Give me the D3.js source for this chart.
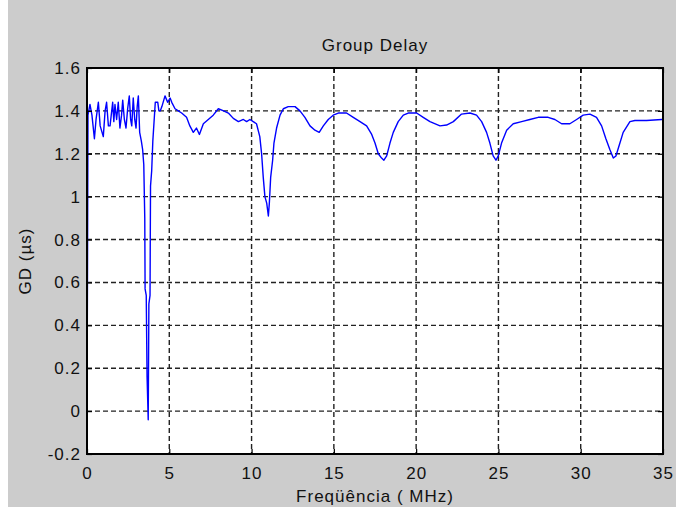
<!DOCTYPE html>
<html>
<head>
<meta charset="utf-8">
<script src="https://cdn.jsdelivr.net/npm/d3@7"></script>
<style>
body { margin: 0; background: #cccccc; }
svg { display: block; }
text { font-family: "Liberation Sans", Arial, sans-serif; font-size: 17px; letter-spacing: 1px; fill: #111; }
</style>
</head>
<body>
<svg width="676" height="507"></svg>
<script>
var title = 'Group Delay';
var xLabel = 'Freqüência ( MHz)';
var yLabel = 'GD (µs)';
var xTicks = [0, 5, 10, 15, 20, 25, 30, 35];
var yTicks = [-0.2, 0, 0.2, 0.4, 0.6, 0.8, 1, 1.2, 1.4, 1.6];

// frequency (MHz) and group delay (us)
var freq = [0, 0.03, 0.06, 0.18, 0.3, 0.45, 0.55, 0.69, 0.8, 0.99, 1.1, 1.19, 1.3, 1.4,
    1.56, 1.63, 1.7, 1.8, 1.9, 2.0, 2.1, 2.17, 2.27, 2.37, 2.47, 2.57, 2.65, 2.72,
    2.81, 2.9, 2.98, 3.05, 3.12, 3.2, 3.3, 3.38, 3.45, 3.51, 3.53, 3.6, 3.65, 3.72,
    3.76, 3.83, 3.86, 3.93, 4.0, 4.15, 4.3, 4.37, 4.45, 4.55, 4.74, 4.9, 5.05, 5.15,
    5.35, 5.55, 5.75, 6.05, 6.25, 6.46, 6.65, 6.83, 7.07, 7.37, 7.67, 7.98, 8.3,
    8.59, 8.89, 9.2, 9.5, 9.7, 9.9, 10.1, 10.3, 10.5, 10.61, 10.71, 10.81, 10.92,
    11.02, 11.08, 11.16, 11.28, 11.36, 11.52, 11.73, 11.93, 12.23, 12.64, 12.94,
    13.24, 13.55, 13.85, 14.11, 14.36, 14.66, 14.96, 15.27, 15.77, 16.18, 16.59,
    16.99, 17.3, 17.5, 17.7, 17.9, 18.04, 18.21, 18.41, 18.61, 18.91, 19.22, 19.52,
    20.03, 20.43, 20.84, 21.45, 21.85, 22.26, 22.76, 23.27, 23.67, 23.98, 24.28,
    24.48, 24.68, 24.85, 24.99, 25.19, 25.5, 25.9, 26.41, 26.91, 27.42, 28.02,
    28.43, 28.84, 29.34, 29.75, 30.15, 30.56, 30.96, 31.27, 31.53, 31.77, 31.98,
    32.14, 32.34, 32.58, 32.99, 33.29, 34.0, 34.92, 35];
var delay = [0.0, 0.64, 1.38, 1.43, 1.38, 1.27, 1.36, 1.44, 1.33, 1.28, 1.40, 1.44, 1.33, 1.33,
    1.44, 1.35, 1.43, 1.36, 1.44, 1.32, 1.38, 1.45, 1.36, 1.32, 1.41, 1.47, 1.36, 1.33,
    1.46, 1.36, 1.32, 1.42, 1.47, 1.30, 1.26, 1.22, 1.15, 0.9, 0.57, 0.54, 0.16, -0.04,
    0.5, 0.54, 1.05, 1.12, 1.26, 1.44, 1.44, 1.40, 1.40, 1.42, 1.47, 1.44, 1.46, 1.44,
    1.41, 1.40, 1.39, 1.37, 1.33, 1.30, 1.32, 1.29, 1.34, 1.36, 1.38, 1.41, 1.40,
    1.39, 1.365, 1.35, 1.36, 1.35, 1.36, 1.35, 1.34, 1.28, 1.20, 1.09, 1.0, 0.97,
    0.91, 0.97, 1.09, 1.17, 1.25, 1.32, 1.38, 1.41, 1.42, 1.42, 1.40,
    1.37, 1.33, 1.31, 1.30, 1.33, 1.36, 1.38, 1.39, 1.39, 1.37, 1.35,
    1.33, 1.29, 1.25, 1.20, 1.18, 1.17, 1.19, 1.25, 1.30, 1.35, 1.38, 1.39,
    1.39, 1.37, 1.35, 1.33, 1.334, 1.35, 1.385, 1.39, 1.38, 1.35, 1.30,
    1.25, 1.19, 1.17, 1.19, 1.25, 1.31, 1.34, 1.35, 1.36, 1.37, 1.37,
    1.36, 1.34, 1.34, 1.36, 1.38, 1.385, 1.37, 1.33, 1.27, 1.22, 1.18,
    1.19, 1.24, 1.30, 1.35, 1.355, 1.355, 1.36, 1.36];

var svg = d3.select('svg');
var pLeft = 87, pRight = 663, pTop = 68, pBottom = 454;

// white strip on the left edge of the screenshot
svg.append('rect').attr('x', 0).attr('y', 0).attr('width', 8).attr('height', 507).style('fill', '#fff');

var x = d3.scaleLinear().domain([0, 35]).range([pLeft, pRight]);
var y = d3.scaleLinear().domain([-0.2, 1.6]).range([pBottom, pTop]);

svg.append('rect')
    .attr('x', pLeft).attr('y', pTop)
    .attr('width', pRight - pLeft).attr('height', pBottom - pTop)
    .style('fill', '#fff');

// dashed grid
var grid = svg.append('g')
    .style('stroke', '#222')
    .style('stroke-width', 1.4)
    .style('stroke-dasharray', '5,3');
grid.selectAll('.vg')
    .data(xTicks.slice(1, -1))
    .enter()
    .append('line')
    .attr('x1', function(d) {return x(d);})
    .attr('x2', function(d) {return x(d);})
    .attr('y1', pTop).attr('y2', pBottom);
grid.selectAll('.hg')
    .data(yTicks.slice(1, -1))
    .enter()
    .append('line')
    .attr('y1', function(d) {return y(d);})
    .attr('y2', function(d) {return y(d);})
    .attr('x1', pLeft).attr('x2', pRight);

// the curve
var line = d3.line()
    .x(function(d) {return x(d[0]);})
    .y(function(d) {return y(d[1]);});
svg.append('path')
    .datum(d3.zip(freq, delay))
    .attr('d', line)
    .style('fill', 'none')
    .style('stroke', '#0000ff')
    .style('stroke-width', 1.4)
    .style('stroke-linejoin', 'round');

// axes, ticks pointing in, box on all sides
// plain hyphen for negatives, like the original
var fmt = function(d) {return String(+d.toFixed(1));};
var axes = [
    [d3.axisBottom(x).tickValues(xTicks).tickSize(-5).tickPadding(13).tickFormat(fmt), 'translate(0,' + pBottom + ')'],
    [d3.axisTop(x).tickValues(xTicks).tickSize(-5).tickFormat(''), 'translate(0,' + pTop + ')'],
    [d3.axisLeft(y).tickValues(yTicks).tickSize(-5).tickPadding(6).tickFormat(fmt), 'translate(' + pLeft + ',0)'],
    [d3.axisRight(y).tickValues(yTicks).tickSize(-5).tickFormat(''), 'translate(' + pRight + ',0)']
];
axes.forEach(function(a) {
    var g = svg.append('g').attr('transform', a[1]).call(a[0]);
    g.select('.domain').remove();
    g.selectAll('line').style('stroke', '#000').style('stroke-width', 1.2);
    g.selectAll('text')
        .style('font-size', '17px')
        .style('font-family', '"Liberation Sans", Arial, sans-serif')
        .style('fill', '#111');
});

svg.append('rect')
    .attr('x', pLeft).attr('y', pTop)
    .attr('width', pRight - pLeft).attr('height', pBottom - pTop)
    .style('fill', 'none')
    .style('stroke', '#000')
    .style('stroke-width', 2);

// labels
svg.append('text')
    .attr('x', (pLeft + pRight) / 2).attr('y', 51)
    .attr('text-anchor', 'middle')
    .text(title);
svg.append('text')
    .attr('x', (pLeft + pRight) / 2).attr('y', 502)
    .attr('text-anchor', 'middle')
    .text(xLabel);
svg.append('text')
    .attr('transform', 'translate(31,' + (pTop + pBottom) / 2 + ') rotate(-90)')
    .attr('text-anchor', 'middle')
    .text(yLabel);
</script>
</body>
</html>
